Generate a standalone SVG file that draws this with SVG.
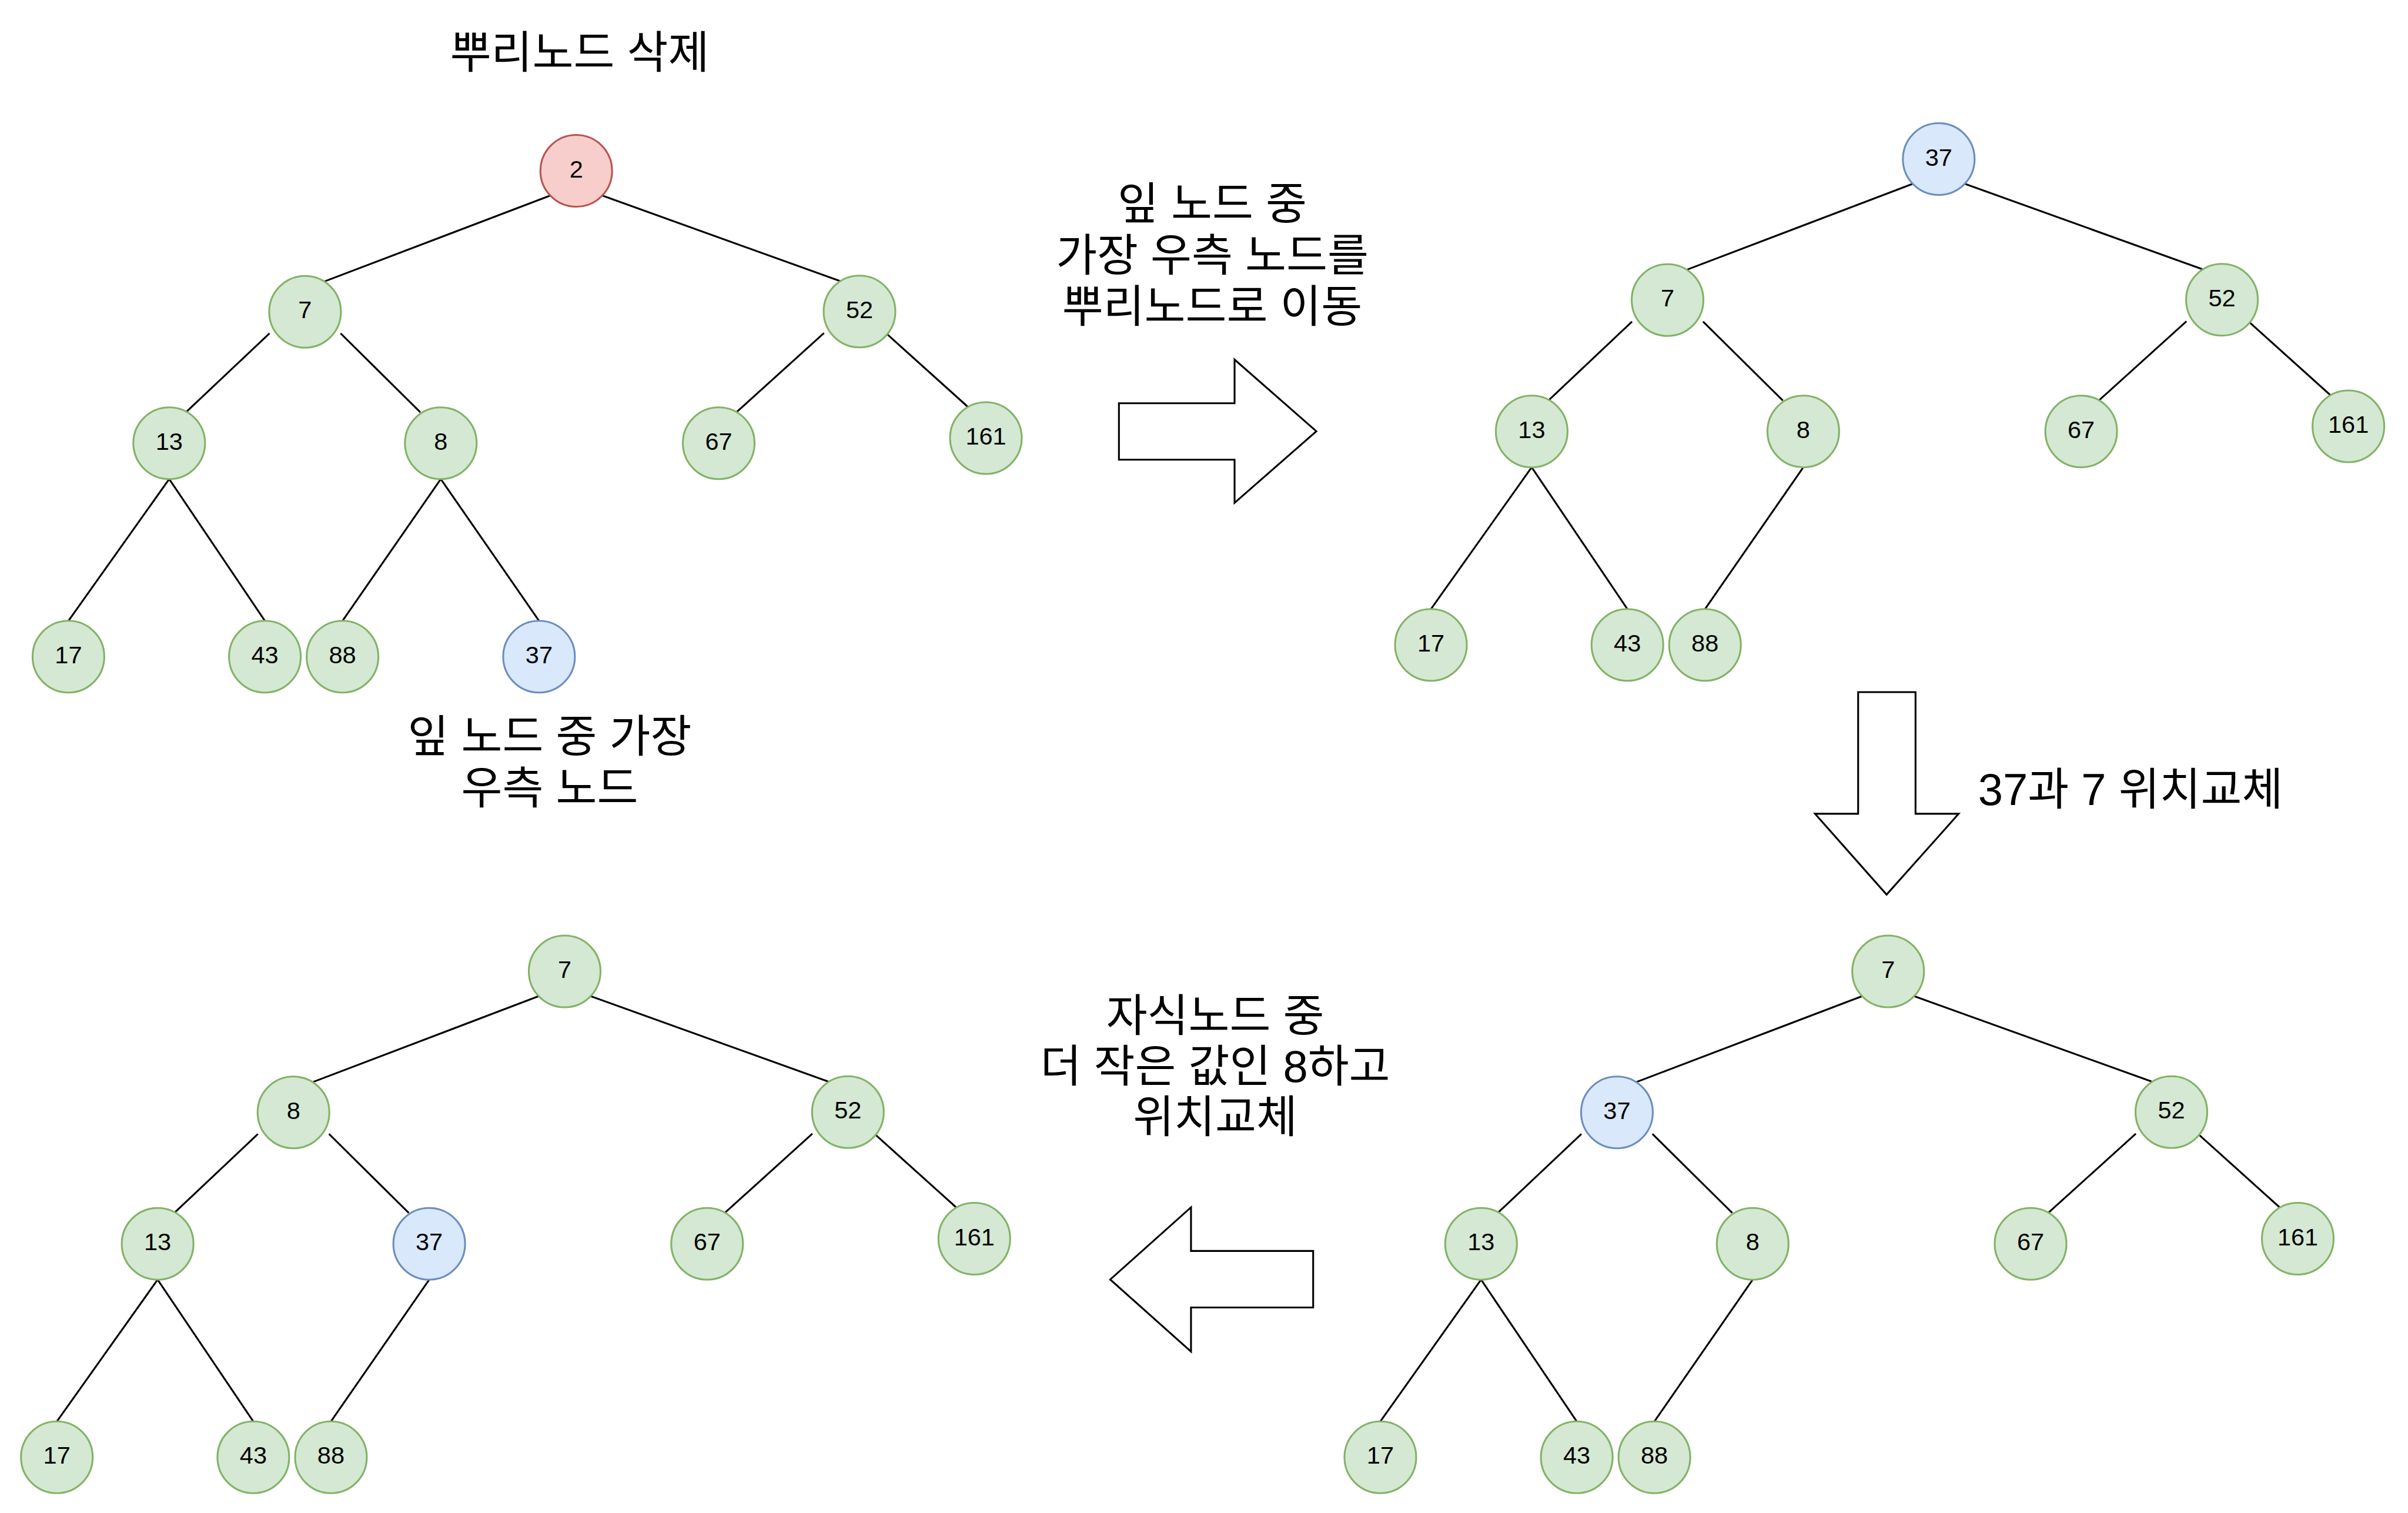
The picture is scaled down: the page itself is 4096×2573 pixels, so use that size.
<svg xmlns="http://www.w3.org/2000/svg" width="4096" height="2573" viewBox="0 0 4096 2573">
<style>
.g{fill:#d5e8d4;stroke:#82b366;stroke-width:3.1}
.r{fill:#f8cecc;stroke:#b85450;stroke-width:3.1}
.b{fill:#dae8fc;stroke:#6c8ebf;stroke-width:3.1}
.n{font-family:"Liberation Sans",Arial,sans-serif;font-size:41.5px;text-anchor:middle;fill:#000}
.t{font-family:"Liberation Sans","Noto Sans CJK KR",sans-serif;font-size:76px;text-anchor:middle;fill:#000}
.e{stroke:#000;stroke-width:3.1;fill:none}
.a{fill:#fff;stroke:#000;stroke-width:3.1;stroke-linejoin:miter}
</style>
<rect width="4096" height="2573" fill="#fff"/>
<defs>
<g id="edgesBase">
<line class="e" x1="937.5" y1="332" x2="552.5" y2="478.4"/>
<line class="e" x1="1022.9" y1="332" x2="1428.4" y2="477.8"/>
<line class="e" x1="458.5" y1="566.9" x2="316.2" y2="701.2"/>
<line class="e" x1="579.3" y1="566.9" x2="715" y2="701.2"/>
<line class="e" x1="1401.6" y1="566.3" x2="1252.5" y2="701.2"/>
<line class="e" x1="1506" y1="565.7" x2="1647" y2="692.5"/>
<line class="e" x1="287.8" y1="814.7" x2="116.4" y2="1055.8"/>
<line class="e" x1="287.8" y1="814.7" x2="450.6" y2="1055.8"/>
<line class="e" x1="749.8" y1="814.7" x2="582.6" y2="1055.8"/>
</g>
</defs>
<g id="connectors">
<g>
<use href="#edgesBase"/>
<line class="e" x1="749.8" y1="814.7" x2="916.9" y2="1055.8"/>
</g>
<use href="#edgesBase" transform="translate(2317.6,-20)"/>
<use href="#edgesBase" transform="translate(2231.5,1361.5)"/>
<use href="#edgesBase" transform="translate(-19.7,1361.5)"/>
</g>
<g id="tree1">
<g id="t1-2"><circle class="r" cx="980.2" cy="290.5" r="61"/><text class="n" x="980.2" y="301.5">2</text></g>
<g id="t1-7"><circle class="g" cx="518.9" cy="530.3" r="61"/><text class="n" x="518.9" y="541.3">7</text></g>
<g id="t1-52"><circle class="g" cx="1462" cy="529.7" r="61"/><text class="n" x="1462" y="540.7">52</text></g>
<g id="t1-13"><circle class="g" cx="287.8" cy="753.7" r="61"/><text class="n" x="287.8" y="764.7">13</text></g>
<g id="t1-8"><circle class="g" cx="749.8" cy="753.7" r="61"/><text class="n" x="749.8" y="764.7">8</text></g>
<g id="t1-67"><circle class="g" cx="1222.5" cy="753.7" r="61"/><text class="n" x="1222.5" y="764.7">67</text></g>
<g id="t1-161"><circle class="g" cx="1677" cy="745" r="61"/><text class="n" x="1677" y="756">161</text></g>
<g id="t1-17"><circle class="g" cx="116.4" cy="1116.8" r="61"/><text class="n" x="116.4" y="1127.8">17</text></g>
<g id="t1-43"><circle class="g" cx="450.6" cy="1116.8" r="61"/><text class="n" x="450.6" y="1127.8">43</text></g>
<g id="t1-88"><circle class="g" cx="582.6" cy="1116.8" r="61"/><text class="n" x="582.6" y="1127.8">88</text></g>
<g id="t1-37"><circle class="b" cx="916.9" cy="1116.8" r="61"/><text class="n" x="916.9" y="1127.8">37</text></g>
</g>
<g id="tree2" transform="translate(2317.6,-20)">
<g id="t2-37"><circle class="b" cx="980.2" cy="290.5" r="61"/><text class="n" x="980.2" y="301.5">37</text></g>
<g id="t2-7"><circle class="g" cx="518.9" cy="530.3" r="61"/><text class="n" x="518.9" y="541.3">7</text></g>
<g id="t2-52"><circle class="g" cx="1462" cy="529.7" r="61"/><text class="n" x="1462" y="540.7">52</text></g>
<g id="t2-13"><circle class="g" cx="287.8" cy="753.7" r="61"/><text class="n" x="287.8" y="764.7">13</text></g>
<g id="t2-8"><circle class="g" cx="749.8" cy="753.7" r="61"/><text class="n" x="749.8" y="764.7">8</text></g>
<g id="t2-67"><circle class="g" cx="1222.5" cy="753.7" r="61"/><text class="n" x="1222.5" y="764.7">67</text></g>
<g id="t2-161"><circle class="g" cx="1677" cy="745" r="61"/><text class="n" x="1677" y="756">161</text></g>
<g id="t2-17"><circle class="g" cx="116.4" cy="1116.8" r="61"/><text class="n" x="116.4" y="1127.8">17</text></g>
<g id="t2-43"><circle class="g" cx="450.6" cy="1116.8" r="61"/><text class="n" x="450.6" y="1127.8">43</text></g>
<g id="t2-88"><circle class="g" cx="582.6" cy="1116.8" r="61"/><text class="n" x="582.6" y="1127.8">88</text></g>
</g>
<g id="tree3" transform="translate(2231.5,1361.5)">
<g id="t3-7"><circle class="g" cx="980.2" cy="290.5" r="61"/><text class="n" x="980.2" y="301.5">7</text></g>
<g id="t3-37"><circle class="b" cx="518.9" cy="530.3" r="61"/><text class="n" x="518.9" y="541.3">37</text></g>
<g id="t3-52"><circle class="g" cx="1462" cy="529.7" r="61"/><text class="n" x="1462" y="540.7">52</text></g>
<g id="t3-13"><circle class="g" cx="287.8" cy="753.7" r="61"/><text class="n" x="287.8" y="764.7">13</text></g>
<g id="t3-8"><circle class="g" cx="749.8" cy="753.7" r="61"/><text class="n" x="749.8" y="764.7">8</text></g>
<g id="t3-67"><circle class="g" cx="1222.5" cy="753.7" r="61"/><text class="n" x="1222.5" y="764.7">67</text></g>
<g id="t3-161"><circle class="g" cx="1677" cy="745" r="61"/><text class="n" x="1677" y="756">161</text></g>
<g id="t3-17"><circle class="g" cx="116.4" cy="1116.8" r="61"/><text class="n" x="116.4" y="1127.8">17</text></g>
<g id="t3-43"><circle class="g" cx="450.6" cy="1116.8" r="61"/><text class="n" x="450.6" y="1127.8">43</text></g>
<g id="t3-88"><circle class="g" cx="582.6" cy="1116.8" r="61"/><text class="n" x="582.6" y="1127.8">88</text></g>
</g>
<g id="tree4" transform="translate(-19.7,1361.5)">
<g id="t4-7"><circle class="g" cx="980.2" cy="290.5" r="61"/><text class="n" x="980.2" y="301.5">7</text></g>
<g id="t4-8"><circle class="g" cx="518.9" cy="530.3" r="61"/><text class="n" x="518.9" y="541.3">8</text></g>
<g id="t4-52"><circle class="g" cx="1462" cy="529.7" r="61"/><text class="n" x="1462" y="540.7">52</text></g>
<g id="t4-13"><circle class="g" cx="287.8" cy="753.7" r="61"/><text class="n" x="287.8" y="764.7">13</text></g>
<g id="t4-37"><circle class="b" cx="749.8" cy="753.7" r="61"/><text class="n" x="749.8" y="764.7">37</text></g>
<g id="t4-67"><circle class="g" cx="1222.5" cy="753.7" r="61"/><text class="n" x="1222.5" y="764.7">67</text></g>
<g id="t4-161"><circle class="g" cx="1677" cy="745" r="61"/><text class="n" x="1677" y="756">161</text></g>
<g id="t4-17"><circle class="g" cx="116.4" cy="1116.8" r="61"/><text class="n" x="116.4" y="1127.8">17</text></g>
<g id="t4-43"><circle class="g" cx="450.6" cy="1116.8" r="61"/><text class="n" x="450.6" y="1127.8">43</text></g>
<g id="t4-88"><circle class="g" cx="582.6" cy="1116.8" r="61"/><text class="n" x="582.6" y="1127.8">88</text></g>
</g>
<g id="arrow-right"><polygon class="a" points="1903.3,685.7 2100,685.7 2100,611.5 2239.1,733.4 2100,855.2 2100,781.8 1903.3,781.8"/></g>
<g id="arrow-down"><polygon class="a" points="3160.7,1177 3258.3,1177 3258.3,1383.9 3331.7,1383.9 3209.1,1521.4 3087.3,1383.9 3160.7,1383.9"/></g>
<g id="arrow-left"><polygon class="a" points="2233.7,2127.4 2025.9,2127.4 2025.9,2053.2 1888.5,2175.9 2025.9,2298.5 2025.9,2223.5 2233.7,2223.5"/></g>
<g id="labels">
<text class="t" x="986" y="116">뿌리노드 삭제</text>
<text class="t" x="935" y="1279">잎 노드 중 가장</text>
<text class="t" x="935" y="1367">우측 노드</text>
<text class="t" x="2062" y="373">잎 노드 중</text>
<text class="t" x="2062" y="461">가장 우측 노드를</text>
<text class="t" x="2062" y="548">뿌리노드로 이동</text>
<text class="t" x="3624" y="1369">37과 7 위치교체</text>
<text class="t" x="2067" y="1754">자식노드 중</text>
<text class="t" x="2067" y="1840">더 작은 값인 8하고</text>
<text class="t" x="2067" y="1926">위치교체</text>
</g>
</svg>
